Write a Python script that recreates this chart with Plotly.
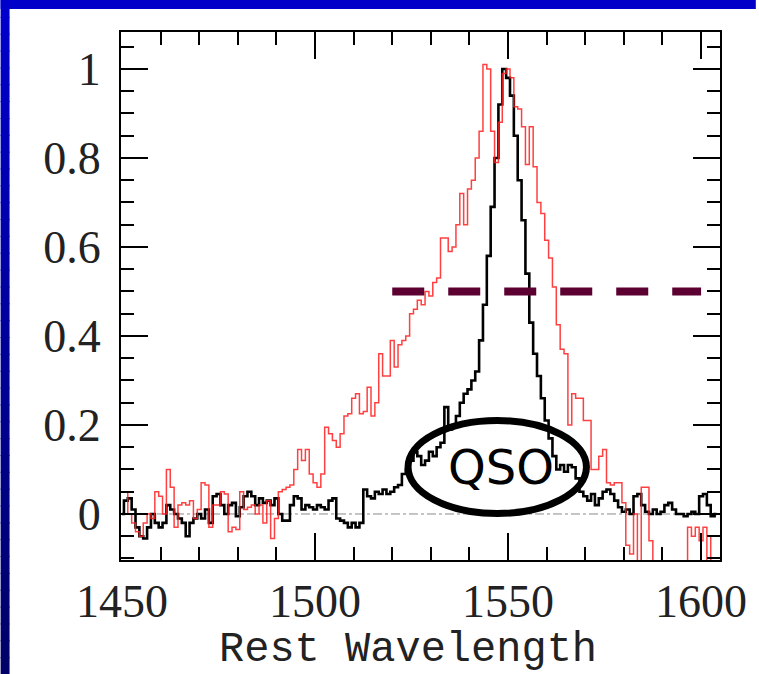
import plotly.graph_objects as go

# ---------------- data ----------------
wavelength = list(range(1450, 1605))

qso_flux = [
    0.00, 0.03, 0.035, 0.01, -0.03, -0.05, -0.055, -0.03, 0.0, -0.02,
    -0.03, -0.02, 0.02, 0.01, 0.0, -0.01, -0.02, -0.05, -0.02, -0.01,
    0.0, -0.01, 0.01, -0.02, 0.04, 0.045, 0.02, 0.0, 0.02, 0.025,
    -0.005, 0.015, 0.04, 0.05, 0.04, 0.02, 0.035, 0.025, 0.03, 0.02,
    0.035, 0.0, -0.015, -0.015, 0.02, 0.04, 0.035, 0.01, 0.02, 0.015,
    0.01, 0.02, 0.015, 0.01, 0.03, 0.035, -0.01, -0.015, -0.02, -0.03,
    -0.02, -0.03, -0.02, 0.055, 0.04, 0.035, 0.05, 0.045, 0.055, 0.045,
    0.05, 0.06, 0.065, 0.09, 0.1, 0.12, 0.14, 0.13, 0.11, 0.12,
    0.14, 0.13, 0.15, 0.16, 0.24, 0.19, 0.2, 0.22, 0.25, 0.27,
    0.28, 0.3, 0.32, 0.39, 0.47, 0.58, 0.69, 0.8, 0.92, 1.0,
    0.98, 0.94, 0.85, 0.75, 0.66, 0.54, 0.43, 0.36, 0.31, 0.26,
    0.21, 0.17, 0.13, 0.1, 0.11, 0.095, 0.11, 0.105, 0.08, 0.05,
    0.04, 0.03, 0.045, 0.02, 0.035, 0.05, 0.055, 0.045, 0.03, 0.015,
    0.005, 0.01, 0.0, 0.04, 0.045, 0.02, 0.005, 0.0, 0.01, 0.0,
    0.005, 0.02, 0.025, 0.01, 0.0, 0.0, -0.005, 0.0, 0.005, 0.0,
    0.04, 0.045, 0.02, -0.005, 0.0,
]

broad_flux = [
    0.05, 0.05, 0.0, -0.02, -0.04, -0.05, -0.02, 0.0, -0.01, 0.05,
    0.04, 0.0, 0.1, 0.06, -0.03, 0.02, 0.025, 0.02, 0.03, -0.01,
    0.01, 0.07, 0.065, -0.03, 0.02, 0.02, 0.05, 0.045, -0.04, -0.03,
    -0.035, 0.05, 0.01, 0.015, 0.02, 0.0, 0.02, -0.02, 0.03, -0.055,
    -0.01, 0.05, 0.055, 0.06, 0.065, 0.1, 0.145, 0.12, 0.145, 0.09,
    0.07, 0.06, 0.09, 0.195, 0.18, 0.165, 0.15, 0.18, 0.22, 0.225,
    0.26, 0.27, 0.225, 0.23, 0.285, 0.22, 0.25, 0.36, 0.31, 0.31,
    0.39, 0.33, 0.38, 0.39, 0.4, 0.45, 0.46, 0.48, 0.47, 0.5,
    0.49, 0.52, 0.53, 0.62, 0.62, 0.59, 0.6, 0.65, 0.72, 0.65,
    0.73, 0.75, 0.8, 0.86, 1.01, 1.0, 0.86, 0.79, 0.88, 0.99,
    1.0, 0.98, 0.915, 0.91, 0.87, 0.785, 0.87, 0.78, 0.7, 0.675,
    0.615, 0.575, 0.51, 0.425, 0.37, 0.36, 0.2, 0.27, 0.26, 0.26,
    0.21, 0.21, 0.1, 0.1, 0.13, 0.145, 0.07, 0.065, 0.07, 0.07,
    0.025, -0.07, -0.09, 0.0, -0.12, 0.06, 0.06, -0.06, -0.12, -0.12,
    -0.15, -0.15, -0.14, -0.15, -0.15, -0.13, -0.14, -0.03, -0.05, -0.03,
    -0.06, -0.03, -0.12, -0.05, -0.05,
]

x_tickvals = [1450, 1500, 1550, 1600]
y_tickvals = [0, 0.2, 0.4, 0.6, 0.8, 1]
y_ticktext = ["0", "0.2", "0.4", "0.6", "0.8", "1"]

half_max_level = 0.5
half_max_span = [1520, 1600]
qso_label = "QSO"
qso_ellipse_x = [1524.1, 1570.3]
qso_ellipse_y = [0.001, 0.21]
x_title = "Rest Wavelength"

# ---------------- figure ----------------
W, H = 759, 674
L, R, T, B = 121, 36, 32, 114
pw, ph = W - L - R, H - T - B


def px_x(px):
    return (px - L) / pw


def px_y(py):
    return (H - B - py) / ph


fig = go.Figure()

fig.add_trace(go.Scatter(
    x=wavelength, y=qso_flux, mode="lines", line_shape="hvh",
    line=dict(color="black", width=2.6), showlegend=False,
))
fig.add_trace(go.Scatter(
    x=wavelength, y=broad_flux, mode="lines", line_shape="hvh",
    line=dict(color="rgba(255,30,30,0.85)", width=1.5), showlegend=False,
))

shapes = []
# blue slide border: top band + left gradient band
shapes.append(dict(type="rect", xref="paper", yref="paper",
                   x0=px_x(0), x1=px_x(W), y0=px_y(9), y1=px_y(0),
                   fillcolor="rgb(0,0,200)", line_width=0, layer="above"))
n_bands = 40
for i in range(n_bands):
    y_top = H * i / n_bands
    y_bot = H * (i + 1) / n_bands + 1
    f = i / (n_bands - 1)
    b = int(205 - f * 100)
    shapes.append(dict(type="rect", xref="paper", yref="paper",
                       x0=px_x(0), x1=px_x(9), y0=px_y(y_bot), y1=px_y(y_top),
                       fillcolor=f"rgb(0,0,{b})", line_width=0, layer="above"))

# zero reference line
shapes.append(dict(type="line", xref="paper", yref="y", x0=0, x1=1, y0=0, y1=0,
                   line=dict(color="rgba(110,110,110,0.8)", width=1, dash="dashdot"),
                   layer="below"))
# half maximum dashed line
shapes.append(dict(type="line", xref="x", yref="y",
                   x0=half_max_span[0], x1=half_max_span[1],
                   y0=half_max_level, y1=half_max_level,
                   line=dict(color="#5c0032", width=8, dash="32px,24px")))
# QSO ellipse
shapes.append(dict(type="circle", xref="x", yref="y",
                   x0=qso_ellipse_x[0], x1=qso_ellipse_x[1],
                   y0=qso_ellipse_y[0], y1=qso_ellipse_y[1],
                   line=dict(color="black", width=7)))

fig.update_layout(
    width=W, height=H,
    margin=dict(l=L, r=R, t=T, b=B, pad=0),
    paper_bgcolor="white", plot_bgcolor="white",
    shapes=shapes,
    showlegend=False,
    annotations=[
        dict(text=qso_label, x=(qso_ellipse_x[0] + qso_ellipse_x[1]) / 2 + 1,
             y=(qso_ellipse_y[0] + qso_ellipse_y[1]) / 2,
             xref="x", yref="y", showarrow=False,
             font=dict(family="DejaVu Sans", size=48, color="black"),
             xanchor="center", yanchor="middle"),
        dict(text=x_title, x=px_x(409), y=px_y(650), xref="paper", yref="paper",
             showarrow=False, xanchor="center", yanchor="middle",
             font=dict(family="Liberation Mono", size=42, color="#222")),
    ],
)

fig.update_xaxes(
    range=[1449.74, 1604.9], tickvals=x_tickvals,
    ticks="inside", ticklen=27, tickwidth=1.5, tickcolor="black",
    showline=True, linecolor="black", linewidth=2, mirror="allticks",
    showgrid=False, zeroline=False,
    tickfont=dict(family="Liberation Serif", size=46, color="#222"),
    ticklabelstandoff=0,
    minor=dict(dtick=10, tick0=1450, ticks="inside", ticklen=13,
               tickwidth=1.5, tickcolor="black", showgrid=False),
)
fig.update_yaxes(
    range=[-0.1034, 1.083], tickvals=y_tickvals, ticktext=y_ticktext,
    ticks="inside", ticklen=27, tickwidth=1.5, tickcolor="black",
    showline=True, linecolor="black", linewidth=2, mirror="allticks",
    showgrid=False, zeroline=False,
    tickfont=dict(family="Liberation Serif", size=46, color="#222"),
    ticklabelstandoff=9,
    minor=dict(dtick=0.05, tick0=0, ticks="inside", ticklen=13,
               tickwidth=1.5, tickcolor="black", showgrid=False),
)

fig.write_html("out.html")
